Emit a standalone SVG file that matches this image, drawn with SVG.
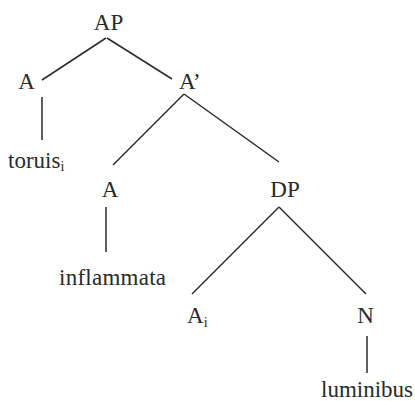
<svg xmlns="http://www.w3.org/2000/svg" width="415" height="401" viewBox="0 0 415 401">
<style>
text{font-family:"Liberation Serif","Times New Roman","DejaVu Serif",serif;font-size:23px;fill:#2a2a2a}
.m{text-anchor:middle}
.sub{font-size:14px}
line{stroke:#2a2a2a;stroke-width:1.5}
</style>
<rect width="415" height="401" fill="#fff"/>
<g id="connectors">
<line x1="106" y1="38" x2="42" y2="80"/>
<line x1="107" y1="38" x2="172" y2="79"/>
<line x1="42" y1="97" x2="42" y2="140"/>
<line x1="184" y1="94" x2="113" y2="165"/>
<line x1="184" y1="94" x2="279" y2="162"/>
<line x1="106" y1="207" x2="106" y2="252"/>
<line x1="279" y1="207" x2="192" y2="294"/>
<line x1="279" y1="207" x2="366" y2="294"/>
<line x1="367" y1="336" x2="367" y2="373"/>
</g>
<g id="AP"><text class="m" x="108.5" y="30">AP</text></g>
<g id="A1"><text class="m" x="26.5" y="89">A</text></g>
<g id="Abar"><text x="179" y="89">A’</text></g>
<g id="toruis"><text x="8" y="168">toruis<tspan class="sub" dy="3">i</tspan></text></g>
<g id="A2"><text class="m" x="110" y="197">A</text></g>
<g id="DP"><text class="m" x="285" y="197">DP</text></g>
<g id="inflammata"><text x="59" y="285" textLength="107">inflammata</text></g>
<g id="Ai"><text x="187" y="323">A<tspan class="sub" dy="4">i</tspan></text></g>
<g id="N"><text class="m" x="365.5" y="323">N</text></g>
<g id="luminibus"><text x="321" y="397" textLength="92">luminibus</text></g>
</svg>
